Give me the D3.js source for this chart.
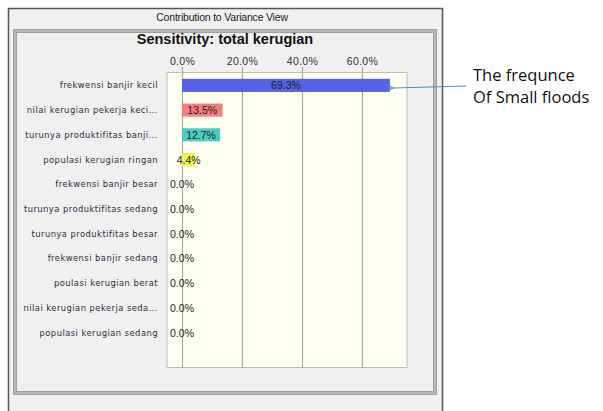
<!DOCTYPE html>
<html>
<head>
<meta charset="utf-8">
<script src="https://cdn.jsdelivr.net/npm/d3@7"></script>
<style>
  body { margin: 0; background: #fff; }
  svg { display: block; }
</style>
</head>
<body>
<svg width="603" height="411"></svg>
<script>
// Data
var factors = [
  "frekwensi banjir kecil",
  "nilai kerugian pekerja keci...",
  "turunya produktifitas banji...",
  "populasi kerugian ringan",
  "frekwensi banjir besar",
  "turunya produktifitas sedang",
  "turunya produktifitas besar",
  "frekwensi banjir sedang",
  "poulasi  kerugian berat",
  "nilai kerugian pekerja seda...",
  "populasi kerugian sedang"
];
var contribution = [69.3, 13.5, 12.7, 4.4, 0, 0, 0, 0, 0, 0, 0];
var barColors = ["#4b5be6", "#f77575", "#3ec9c0", "#f2f23e", "#ccc", "#ccc", "#ccc", "#ccc", "#ccc", "#ccc", "#ccc"];
var tickValues = [0, 20, 40, 60];

var svg = d3.select("svg");
var sans = "Liberation Sans, Arial, sans-serif";

// window frame
svg.append("rect")
  .attr("x", 8.5).attr("y", 8.5)
  .attr("width", 434).attr("height", 410)
  .attr("fill", "#f0f0f0")
  .attr("stroke", "#555").attr("stroke-width", 1.5);

svg.append("text")
  .attr("x", 222).attr("y", 21)
  .attr("text-anchor", "middle")
  .style("font-family", sans)
  .style("font-size", "10.5px")
  .style("letter-spacing", "-0.2px")
  .attr("fill", "#222")
  .text("Contribution to Variance View");

// inner panel
svg.append("rect")
  .attr("x", 15).attr("y", 31)
  .attr("width", 420).attr("height", 362)
  .attr("fill", "none")
  .attr("stroke", "#a0a0a0").attr("stroke-width", 4);
svg.append("rect")
  .attr("x", 15).attr("y", 31)
  .attr("width", 420).attr("height", 362)
  .attr("fill", "none")
  .attr("stroke", "#c6c6c6").attr("stroke-width", 1.2);

svg.append("text")
  .attr("x", 225).attr("y", 44)
  .attr("text-anchor", "middle")
  .style("font-family", sans)
  .style("font-size", "14.5px")
  .style("font-weight", "bold")
  .attr("fill", "#111")
  .text("Sensitivity: total kerugian");

// scales
var x = d3.scaleLinear().domain([-5, 75]).range([167, 407]);
var y = d3.scaleBand().domain(factors).range([73, 345]).paddingInner(0.47).paddingOuter(0.235);

// plot area
svg.append("rect")
  .attr("x", 167).attr("y", 72.5)
  .attr("width", 240).attr("height", 295)
  .attr("fill", "#fffff2")
  .attr("stroke", "#bbb").attr("stroke-width", 1);

// grid
svg.append("g")
  .selectAll("line")
  .data(tickValues)
  .enter()
  .append("line")
    .attr("x1", function (d) { return Math.round(x(d)) + 0.5; })
    .attr("x2", function (d) { return Math.round(x(d)) + 0.5; })
    .attr("y1", 67).attr("y2", 367.5)
    .attr("stroke", "#aaa").attr("stroke-width", 1.2);

// top axis labels
var axis = svg.append("g")
  .attr("transform", "translate(0,67)")
  .call(d3.axisTop(x).tickValues(tickValues).tickSize(0).tickPadding(2)
    .tickFormat(function (d) { return d.toFixed(1) + "%"; }));
axis.select(".domain").remove();
axis.selectAll("text")
  .style("font-family", sans)
  .style("font-size", "10.5px")
  .style("letter-spacing", "0.3px")
  .attr("fill", "#333");

// factor labels
svg.append("g")
  .selectAll("text")
  .data(factors)
  .enter()
  .append("text")
    .attr("x", 158)
    .attr("y", function (d) { return y(d) + y.bandwidth() / 2 + 3; })
    .attr("text-anchor", "end")
    .style("font-family", "DejaVu Sans, sans-serif")
    .style("font-size", "8.4px")
    .style("letter-spacing", "0.45px")
    .attr("fill", "#352840")
    .text(function (d) { return d; });

// bars
svg.append("g")
  .selectAll("rect")
  .data(contribution)
  .enter()
  .append("rect")
    .attr("x", x(0))
    .attr("y", function (d, i) { return y(factors[i]); })
    .attr("width", function (d) { return x(d) - x(0); })
    .attr("height", y.bandwidth())
    .attr("fill", function (d, i) { return barColors[i]; })
    .attr("fill-opacity", 0.95);

// bar values
svg.append("g")
  .selectAll("text")
  .data(contribution)
  .enter()
  .append("text")
    .attr("x", function (d) { return (x(0) + x(d)) / 2; })
    .attr("y", function (d, i) { return y(factors[i]) + y.bandwidth() / 2 + 4; })
    .attr("text-anchor", "middle")
    .style("font-family", sans)
    .style("font-size", "10.5px")
    .attr("fill", "#222")
    .text(function (d) { return d.toFixed(1) + "%"; });

// annotation
svg.append("defs").append("marker")
  .attr("id", "arrow")
  .attr("viewBox", "0 0 10 10")
  .attr("refX", 1).attr("refY", 5)
  .attr("markerWidth", 8).attr("markerHeight", 8)
  .attr("orient", "auto-start-reverse")
  .append("path")
    .attr("d", "M9,1 L1,5 L9,9")
    .attr("fill", "none")
    .attr("stroke", "#5a86c5")
    .attr("stroke-width", 1.3);

svg.append("line")
  .attr("x1", 466).attr("y1", 86)
  .attr("x2", 393).attr("y2", 88)
  .attr("stroke", "#5a86c5").attr("stroke-width", 1.2)
  .attr("marker-end", "url(#arrow)");

svg.append("text")
  .attr("x", 473).attr("y", 81)
  .style("font-family", "Open Sans, sans-serif")
  .style("font-size", "16.5px")
  .attr("fill", "#111")
  .text("The frequnce");
svg.append("text")
  .attr("x", 473).attr("y", 103)
  .style("font-family", "Open Sans, sans-serif")
  .style("font-size", "16.5px")
  .attr("fill", "#111")
  .text("Of Small floods");
</script>
</body>
</html>
